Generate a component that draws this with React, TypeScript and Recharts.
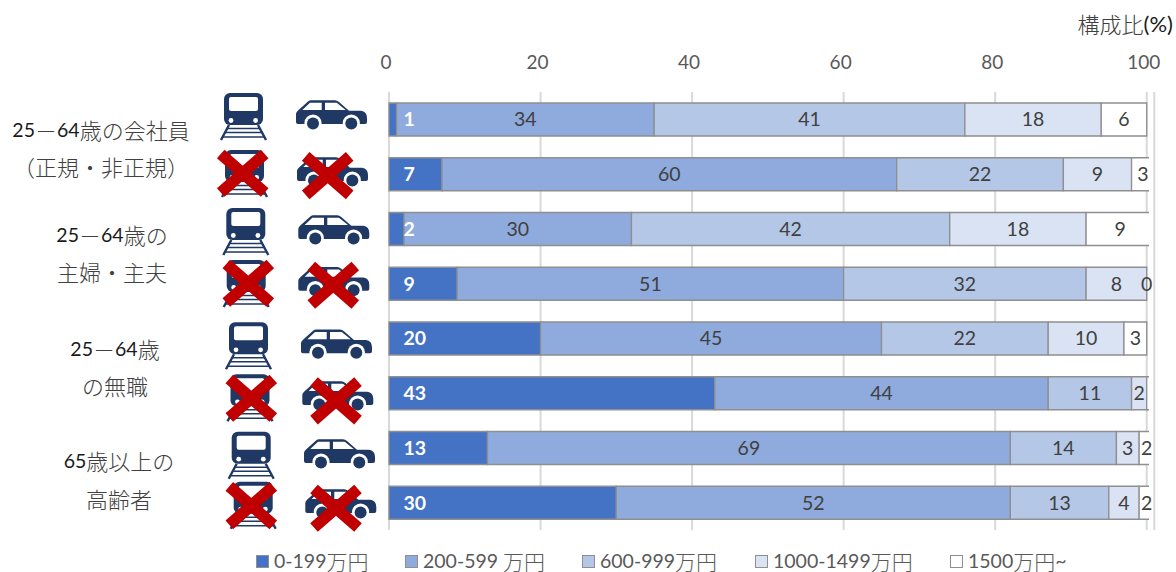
import React from 'react';
import { BarChart, Bar, XAxis, YAxis, CartesianGrid, LabelList, Legend, Rectangle } from 'recharts';

const rowNames = ['会社員・利用', '会社員・非利用', '主婦主夫・利用', '主婦主夫・非利用', '無職・利用', '無職・非利用', '高齢者・利用', '高齢者・非利用'];
const under200 = [1, 7, 2, 9, 20, 43, 13, 30];
const from200 = [34, 60, 30, 51, 45, 44, 69, 52];
const from600 = [41, 22, 42, 32, 22, 11, 14, 13];
const from1000 = [18, 9, 18, 8, 10, 2, 3, 4];
const over1500 = [6, 3, 9, 0, 3, 1, 2, 2];
// the sixth row has no printed value on its last segment
const over1500Labels = [6, 3, 9, 0, 3, null, 2, 2];
const percentTicks = [0, 20, 40, 60, 80, 100];

const rows = rowNames.map((row, i) => ({
  row,
  under200: under200[i],
  from200: from200[i],
  from600: from600[i],
  from1000: from1000[i],
  over1500: over1500[i],
  over1500Label: over1500Labels[i],
}));

const LATIN = 'Lato, sans-serif';
const CJK = '"Noto Sans CJK JP", sans-serif';
const BORDER = '#8F8F8F';

const splitRuns = (text: string) => text.match(/[\x20-\x7e]+|[^\x20-\x7e]+/g) ?? [];
const isLatin = (run: string) => /^[\x20-\x7e]/.test(run);

// Digits and kana come from different fonts and need different sizes
const MixedText = ({ x, y, text, anchor = 'middle', latinSize = 19.5 }: { x: number; y: number; text: string; anchor?: string; latinSize?: number }) => (
  <text x={x} y={y} textAnchor={anchor} dominantBaseline="central">
    {splitRuns(text).map((run, i) =>
      isLatin(run) ? (
        <tspan key={i} fontFamily={LATIN} fontSize={latinSize} fill="#1a1a1a">{run}</tspan>
      ) : (
        <tspan key={i} fontFamily={CJK} fontSize={22} fontWeight={300} fill="#404040">{run}</tspan>
      )
    )}
  </text>
);

const TrainIcon = ({ x, y }: { x: number; y: number }) => (
  <g transform={`translate(${x} ${y})`}>
    <rect x={4} y={0} width={39} height={32} rx={6} fill="#1F3864" />
    <rect x={9} y={4} width={29} height={14} rx={2} fill="#fff" />
    <circle cx={11} cy={27.5} r={2.4} fill="#fff" />
    <circle cx={35.6} cy={27.5} r={2.4} fill="#fff" />
    <path d="M9 32 L1 47 M38 32 L46 47" stroke="#1F3864" strokeWidth={2.4} fill="none" />
    <path d="M7 35.5 H40 M5.5 39.5 H41.5 M3 44 H44" stroke="#1F3864" strokeWidth={1.6} fill="none" />
  </g>
);

const CarIcon = ({ x, y }: { x: number; y: number }) => (
  <g transform={`translate(${x} ${y})`}>
    <path
      d="M0 14 Q0 12 2 10.5 L12 1.5 Q13.5 0.3 15 0.3 L39 0.3 Q41 0.3 43 2 L53 10.7 L65 10.7 Q71 11.5 71 18 L71 22 Q71 24 69 24 L2 24 Q0 24 0 22 Z"
      fill="#1F3864"
    />
    <path d="M6.3 10 L14 2.7 H25.7 V10 Z M29 2.7 H40.7 L49.7 10 H29 Z" fill="#fff" />
    <circle cx={17} cy={23} r={8.6} fill="#fff" />
    <circle cx={55.3} cy={23} r={8.6} fill="#fff" />
    <circle cx={17} cy={23.5} r={6} fill="#1F3864" />
    <circle cx={55.3} cy={23.5} r={6} fill="#1F3864" />
  </g>
);

const CrossMark = ({ x, y }: { x: number; y: number }) => (
  <path
    transform={`translate(${x} ${y})`}
    d="M4 4 L48 42.5 M48 4 L4 42.5"
    stroke="#C00000"
    strokeWidth={11.5}
    fill="none"
  />
);

const plainIcons = [
  { train: [220, 93], car: [296, 100] },
  { train: [222.3, 208], car: [298.3, 215] },
  { train: [225, 322.3], car: [301, 329.3] },
  { train: [227.7, 431.7], car: [304, 439] },
];

const crossedIcons = [
  { train: [221, 150], car: [297, 157], trainCross: [216.7, 150], carCross: [301.7, 152.3] },
  { train: [222.7, 260], car: [298.3, 266.7], trainCross: [222.3, 260], carCross: [307.3, 262] },
  { train: [226.5, 374.3], car: [302.3, 381], trainCross: [225.3, 375], carCross: [310, 377.7] },
  { train: [229.7, 481.7], car: [305.3, 489], trainCross: [225.3, 482.3], carCross: [310, 485] },
];

const groupLabels = [
  { x: 101, y: 129, text: '25－64歳の会社員' },
  { x: 101, y: 166, text: '（正規・非正規）' },
  { x: 112, y: 234, text: '25－64歳の' },
  { x: 112, y: 271, text: '主婦・主夫' },
  { x: 115, y: 348, text: '25－64歳' },
  { x: 115, y: 385, text: 'の無職' },
  { x: 119, y: 460, text: '65歳以上の' },
  { x: 119, y: 498, text: '高齢者' },
];

const legendLeft = [256, 405, 582, 755, 950];

const IncomeLegend = ({ payload }: any) => (
  <div style={{ position: 'relative', height: 20 }}>
    {(payload ?? []).map((entry: any, i: number) => (
      <div key={entry.value} style={{ position: 'absolute', left: legendLeft[i], top: 0, display: 'flex', alignItems: 'center', height: 20, whiteSpace: 'pre' }}>
        <span style={{ width: 11, height: 11, marginRight: 5, background: entry.color, border: `1px solid ${BORDER}` }} />
        {splitRuns(entry.value).map((run, j) => (
          <span
            key={j}
            style={isLatin(run)
              ? { display: 'inline-block', fontFamily: LATIN, fontSize: 19.5, lineHeight: '20px', color: '#595959' }
              : { display: 'inline-block', fontFamily: CJK, fontSize: 21, lineHeight: '20px', fontWeight: 300, color: '#595959' }}
          >
            {run}
          </span>
        ))}
      </div>
    ))}
  </div>
);

// Segments that run past the frame are cut off just right of the 100 gridline
const clippedBar = (props: any) => (
  <g clipPath="url(#bar-frame)">
    <Rectangle {...props} />
  </g>
);

const labelStyle = { fill: '#404040', fontSize: 19.5, fontFamily: LATIN };

export default function App() {
  return (
    <div style={{ position: 'absolute', left: 0, top: 0, width: 1176, height: 572, background: '#fff' }}>
      <BarChart
        width={1176}
        height={572}
        data={rows}
        layout="vertical"
        barSize={33}
        margin={{ top: 0, right: 21.7, bottom: 42, left: 389 }}
      >
        <defs>
          <clipPath id="bar-frame">
            <rect x={0} y={0} width={1149} height={572} />
          </clipPath>
        </defs>
        <CartesianGrid horizontal={false} stroke="#D9D9D9" strokeWidth={2} />
        <XAxis
          type="number"
          orientation="top"
          height={92}
          domain={[0, 101]}
          ticks={percentTicks}
          axisLine={false}
          tickLine={false}
          tickMargin={17}
          tick={{ fill: '#595959', fontSize: 19, fontFamily: LATIN, dx: -3 }}
        />
        <YAxis type="category" dataKey="row" hide />
        <Legend
          layout="horizontal"
          verticalAlign="middle"
          itemSorter={null}
          wrapperStyle={{ top: 551, left: 0, width: 1176 }}
          content={IncomeLegend}
        />

        <Bar dataKey="under200" name="0-199万円" stackId="share" fill="#4472C4" stroke={BORDER} strokeWidth={1.3} shape={clippedBar} isAnimationActive={false}>
          <LabelList dataKey="under200" position="insideLeft" offset={14.5} style={{ ...labelStyle, fill: '#fff', fontWeight: 700 }} />
        </Bar>
        <Bar dataKey="from200" name="200-599 万円" stackId="share" fill="#8FAADC" stroke={BORDER} strokeWidth={1.3} shape={clippedBar} isAnimationActive={false}>
          <LabelList dataKey="from200" position="center" style={labelStyle} />
        </Bar>
        <Bar dataKey="from600" name="600-999万円" stackId="share" fill="#B4C7E7" stroke={BORDER} strokeWidth={1.3} shape={clippedBar} isAnimationActive={false}>
          <LabelList dataKey="from600" position="center" style={labelStyle} />
        </Bar>
        <Bar dataKey="from1000" name="1000-1499万円" stackId="share" fill="#DAE3F3" stroke={BORDER} strokeWidth={1.3} shape={clippedBar} isAnimationActive={false}>
          <LabelList dataKey="from1000" position="center" style={labelStyle} />
        </Bar>
        <Bar dataKey="over1500" name="1500万円~" stackId="share" fill="#FFFFFF" stroke={BORDER} strokeWidth={1.3} shape={clippedBar} isAnimationActive={false}>
          <LabelList dataKey="over1500Label" position="center" style={labelStyle} />
        </Bar>

        {groupLabels.map((label) => (
          <MixedText key={label.text} x={label.x} y={label.y} text={label.text} />
        ))}
        {plainIcons.map((icon, i) => (
          <g key={i}>
            <TrainIcon x={icon.train[0]} y={icon.train[1]} />
            <CarIcon x={icon.car[0]} y={icon.car[1]} />
          </g>
        ))}
        {crossedIcons.map((icon, i) => (
          <g key={i}>
            <TrainIcon x={icon.train[0]} y={icon.train[1]} />
            <CarIcon x={icon.car[0]} y={icon.car[1]} />
            <CrossMark x={icon.trainCross[0]} y={icon.trainCross[1]} />
            <CrossMark x={icon.carCross[0]} y={icon.carCross[1]} />
          </g>
        ))}
        <MixedText x={1173} y={23} text="構成比(%)" anchor="end" latinSize={22} />
      </BarChart>
    </div>
  );
}
